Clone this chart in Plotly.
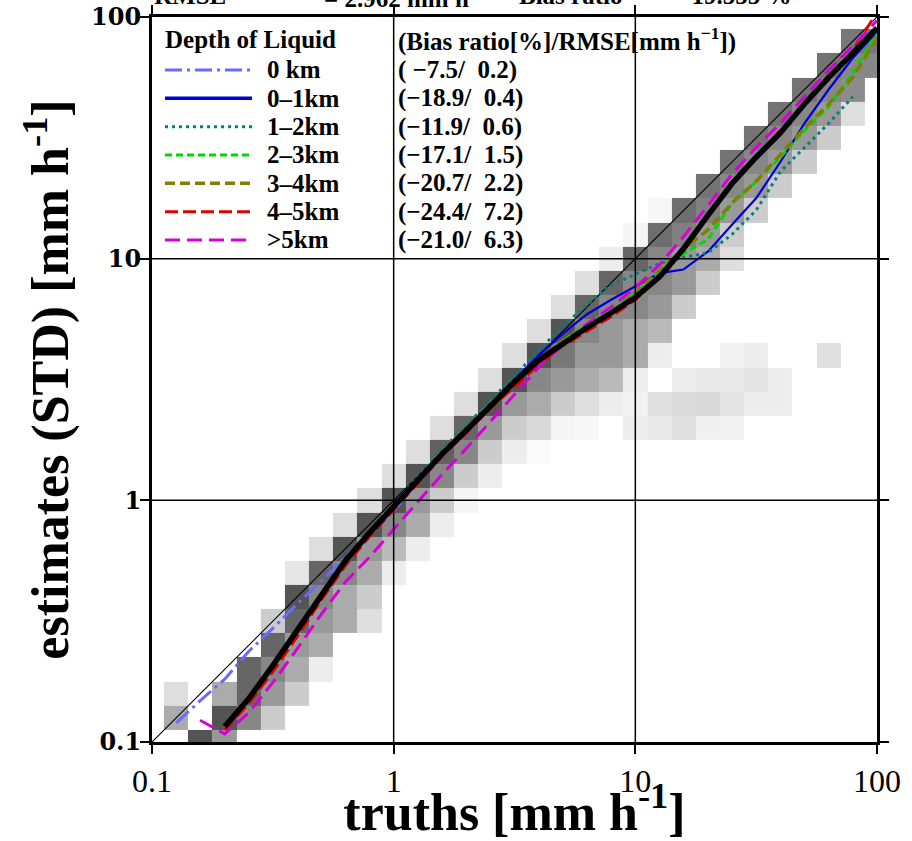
import numpy as np
import plotly.graph_objects as go

# truth bin centres [mm/h], ten bins per decade
truth_bins = [0.1, 0.126, 0.158, 0.2, 0.251, 0.316, 0.398, 0.501, 0.631, 0.794,
              1.0, 1.26, 1.58, 2.0, 2.51, 3.16, 3.98, 5.01, 6.31, 7.94,
              10.0, 12.6, 15.8, 20.0, 25.1, 31.6, 39.8, 50.1, 63.1, 79.4, 100.0]

N = None
# mean estimate per truth bin [mm/h]
est_all = [N, N, N, 0.116, 0.151, 0.207, 0.288, 0.407, 0.562, 0.733,
           0.944, 1.216, 1.549, 1.950, 2.455, 3.090, 3.802, 4.467, 5.188, 5.957,
           6.918, 8.414, 10.96, 15.14, 20.42, 26.30, 33.11, 43.65, 56.23, 70.79, 90.16]
est_0km = [N, 0.120, 0.148, 0.182, 0.237, 0.295, 0.372, 0.462, 0.582, 0.724,
           0.902, 1.189, 1.531, N, N, N, N, N, N, N,
           N, N, N, N, N, N, N, N, N, N, N]
est_0_1km = [N, N, N, 0.117, 0.153, 0.210, 0.292, 0.412, 0.568, 0.741,
             0.960, 1.245, 1.585, 1.995, 2.512, 3.162, 3.981, 4.898, 5.888, 6.761,
             7.674, 8.710, 9.016, 10.72, 13.80, 17.78, 25.12, 36.31, 50.12, 67.61, 87.10]
est_1_2km = [N, N, N, 0.116, 0.152, 0.208, 0.290, 0.410, 0.565, 0.738,
             0.960, 1.259, 1.622, 2.042, 2.570, 3.273, 4.169, 5.248, 6.457, 7.762,
             8.610, 9.550, 10.12, 10.59, 12.59, 15.85, 22.91, 28.84, 36.31, 46.77, N]
est_2_3km = [N, N, N, 0.117, 0.152, 0.208, 0.290, 0.410, 0.565, 0.736,
             0.950, 1.230, 1.585, 1.995, 2.512, 3.090, 3.802, 4.571, 5.370, 6.166,
             7.244, 8.913, 10.47, 12.02, 16.98, 20.89, 26.30, 33.88, 42.66, 58.88, 85.11]
est_3_4km = [N, N, N, 0.116, 0.151, 0.207, 0.288, 0.407, 0.562, 0.733,
             0.944, 1.230, 1.567, 1.972, 2.483, 3.090, 3.802, 4.571, 5.248, 6.026,
             7.244, 8.913, 10.96, 13.18, 16.98, 20.89, 26.92, 34.67, 43.65, 56.23, 81.28]
est_4_5km = [N, N, N, 0.112, 0.144, 0.195, 0.272, 0.387, 0.537, 0.708,
             0.912, 1.175, 1.514, 1.905, 2.399, 2.951, 3.631, 4.365, 5.012, 5.754,
             6.761, 8.511, 11.22, 15.14, 20.42, 26.30, 33.88, 43.65, 54.95, 72.44, 104.7]
est_gt5km = [N, N, 0.123, 0.108, 0.132, 0.176, 0.242, 0.337, 0.459, 0.582,
             0.759, 0.989, 1.274, 1.641, 2.113, 2.754, 3.548, 4.416, 5.370, 6.310,
             7.586, 9.441, 12.30, 16.60, 22.39, 28.84, 36.31, 46.77, 60.26, 75.86, 96.61]

depth_labels = ["0 km", "0\u20131km", "1\u20132km", "2\u20133km", "3\u20134km", "4\u20135km", ">5km"]
bias_ratio = [-7.5, -18.9, -11.9, -17.1, -20.7, -24.4, -21.0]
rmse = [0.2, 0.4, 0.6, 1.5, 2.2, 7.2, 6.3]
total_rmse = 2.962
total_bias = -19.555

# joint histogram shading (darkness, 0-100): estimate bin -> {truth bin: value}
hist_shade = {
    0: {2: 67, 3: 40},
    1: {1: 33, 3: 67, 4: 47, 5: 20},
    2: {1: 13, 3: 33, 4: 60, 5: 40, 6: 20},
    3: {4: 60, 5: 47, 6: 33, 7: 7},
    4: {5: 60, 6: 40, 7: 33},
    5: {5: 20, 6: 60, 7: 40, 8: 33, 9: 13},
    6: {6: 67, 7: 47, 8: 33, 9: 20},
    7: {6: 10, 7: 60, 8: 47, 9: 33, 10: 7},
    8: {7: 13, 8: 67, 9: 40, 10: 27, 11: 7},
    9: {8: 13, 9: 67, 10: 47, 11: 33, 12: 7},
    10: {9: 13, 10: 67, 11: 40, 12: 20, 13: 4},
    11: {10: 13, 11: 67, 12: 47, 13: 20, 14: 7},
    12: {11: 13, 12: 62, 13: 47, 14: 20, 15: 7, 16: 2},
    13: {12: 13, 13: 60, 14: 40, 15: 20, 16: 15, 17: 4, 18: 3, 20: 7, 21: 9,
         22: 12, 23: 6, 24: 5},
    14: {13: 13, 14: 67, 15: 40, 16: 33, 17: 20, 18: 13, 19: 7, 20: 5, 21: 12,
         22: 14, 23: 15, 24: 11, 25: 7, 26: 7},
    15: {14: 13, 15: 67, 16: 47, 17: 40, 18: 33, 19: 27, 20: 7, 22: 7, 23: 9,
         24: 9, 25: 11, 26: 7},
    16: {15: 13, 16: 67, 17: 53, 18: 40, 19: 40, 20: 33, 21: 7, 24: 5, 25: 7, 28: 12},
    17: {16: 13, 17: 67, 18: 47, 19: 40, 20: 33, 21: 27},
    18: {17: 13, 18: 60, 19: 47, 20: 47, 21: 40, 22: 20},
    19: {18: 13, 19: 60, 20: 47, 21: 47, 22: 40, 23: 20},
    20: {19: 7, 20: 60, 21: 47, 22: 40, 23: 33, 24: 13},
    21: {20: 4, 21: 57, 22: 50, 23: 40, 24: 20},
    22: {21: 3, 22: 57, 23: 50, 24: 40, 25: 20},
    23: {23: 55, 24: 47, 25: 40, 26: 20},
    24: {24: 55, 25: 47, 26: 40, 27: 20},
    25: {25: 55, 26: 47, 27: 40, 28: 20},
    26: {26: 55, 27: 47, 28: 40, 29: 13},
    27: {27: 55, 28: 47, 29: 45},
    28: {28: 55, 29: 47, 30: 47},
    29: {29: 53, 30: 53},
}

# histogram grid and bin edges (half-way between centres in log space)
nb = len(truth_bins)
z = np.full((nb, nb), np.nan)
for iy, row in hist_shade.items():
    for ix, v in row.items():
        z[iy, ix] = v
logc = np.log10(truth_bins)
step = np.diff(logc).mean()
edges = 10 ** np.concatenate([[logc[0] - step / 2], (logc[:-1] + logc[1:]) / 2,
                              [logc[-1] + step / 2]])

SERIF = "Liberation Serif"

fig = go.Figure()
fig.add_trace(go.Heatmap(
    x=edges, y=edges, z=z, zmin=0, zmax=100,
    colorscale=[[0, "#ffffff"], [1, "#000000"]],
    showscale=False, hoverinfo="skip"))

# 1:1 line
fig.add_trace(go.Scatter(x=[truth_bins[0], truth_bins[-1]], y=[truth_bins[0], truth_bins[-1]],
                         mode="lines", line=dict(color="black", width=1.2),
                         showlegend=False, hoverinfo="skip"))

series = [est_0km, est_0_1km, est_1_2km, est_2_3km, est_3_4km, est_4_5km, est_gt5km]
colors = ["#6a6aff", "#0000d8", "#008080", "#00d800", "#808000", "#e00000", "#d800d8"]
dashes = ["17px,5px,3px,5px", "solid", "3px,4px", "7px,4px", "10px,5px", "13px,5px", "15px,7px"]
widths = [3, 2.2, 3, 3, 3.5, 3, 3]
legend_widths = [3, 3.5, 3, 3, 3.5, 3, 3]

for lab, ys, c, d, w in zip(depth_labels, series, colors, dashes, widths):
    fig.add_trace(go.Scatter(x=truth_bins, y=ys, mode="lines", name=lab,
                             line=dict(color=c, dash=d, width=w),
                             connectgaps=False, showlegend=False))

fig.add_trace(go.Scatter(x=truth_bins, y=est_all, mode="lines", name="all",
                         line=dict(color="black", width=5.5), showlegend=False))

shapes = []
# grid lines at the decades inside the frame
for v in [1, 10]:
    shapes.append(dict(type="line", xref="x", yref="paper", x0=v, x1=v, y0=0, y1=1,
                       line=dict(color="black", width=1.5), layer="above"))
    shapes.append(dict(type="line", xref="paper", yref="y", x0=0, x1=1, y0=v, y1=v,
                       line=dict(color="black", width=1.5), layer="above"))

# legend block
PL, PT, PW, PH = 152, 17, 725, 725


def xp(px):
    return (px - PL) / PW


def yp(py):
    return (PT + PH - py) / PH


annotations = []
row0, drow = 70, 28.33
lfont = dict(family=SERIF, size=25, color="black", weight="bold")
annotations.append(dict(xref="paper", yref="paper", x=xp(163), y=yp(40), xanchor="left",
                        yanchor="middle", text="Depth of Liquid", showarrow=False, font=lfont))
annotations.append(dict(xref="paper", yref="paper", x=xp(396), y=yp(40), xanchor="left",
                        yanchor="middle", text="(Bias ratio[%]/RMSE[mm h<sup>\u22121</sup>])",
                        showarrow=False, font=lfont))
for i, lab in enumerate(depth_labels):
    py = row0 + i * drow
    shapes.append(dict(type="line", xref="paper", yref="paper", x0=xp(165), x1=xp(252),
                       y0=yp(py), y1=yp(py),
                       line=dict(color=colors[i], dash=dashes[i], width=legend_widths[i])))
    annotations.append(dict(xref="paper", yref="paper", x=xp(265), y=yp(py), xanchor="left",
                            yanchor="middle", text=lab, showarrow=False, font=lfont))
    stat = "({:5.1f}/{:5.1f})".format(bias_ratio[i], rmse[i])
    stat = stat.replace("-", "\u2212").replace(" ", "\u00a0")
    annotations.append(dict(xref="paper", yref="paper", x=xp(396), y=yp(py), xanchor="left",
                            yanchor="middle", text=stat, showarrow=False, font=lfont))

# summary line above the frame
hfont = dict(family=SERIF, size=25, color="black", weight="bold")
head = [(152, "RMSE"), (322, "= {:.3f} mm h<sup>\u22121</sup>".format(total_rmse)),
        (517, "Bias ratio"), (661, ("={:.3f} %".format(total_bias)).replace("-", "\u2212"))]
for px, t in head:
    annotations.append(dict(xref="paper", yref="paper", x=xp(px), y=yp(-4), xanchor="left",
                            yanchor="middle", text=t, showarrow=False, font=hfont))

axis_common = dict(type="log", range=[-1, 2], tickvals=[0.1, 1, 10, 100],
                   ticktext=["0.1", "1", "10", "100"], ticks="outside", ticklen=9,
                   tickwidth=2, tickcolor="black", showline=True, linewidth=3,
                   linecolor="black", mirror="allticks", showgrid=False, zeroline=False,
                   automargin=False)

fig.update_layout(
    width=912, height=841,
    margin=dict(l=PL, r=912 - PL - PW, t=PT, b=841 - PT - PH, autoexpand=False),
    paper_bgcolor="white", plot_bgcolor="white",
    shapes=shapes, annotations=annotations, showlegend=False,
    xaxis=dict(**axis_common,
               tickfont=dict(family=SERIF, size=32, color="black"),
               title=dict(text="truths [mm h<sup>-1</sup>]", standoff=6,
                          font=dict(family=SERIF, size=52, color="black", weight="bold"))),
    yaxis=dict(**axis_common,
               tickfont=dict(family="DejaVu Serif", size=24, color="black", weight="bold"),
               ticklabelstandoff=-6,
               title=dict(text="estimates (STD) [mm h<sup>-1</sup>]", standoff=6,
                          font=dict(family=SERIF, size=52, color="black", weight="bold"))),
)

fig.write_html("out.html")
